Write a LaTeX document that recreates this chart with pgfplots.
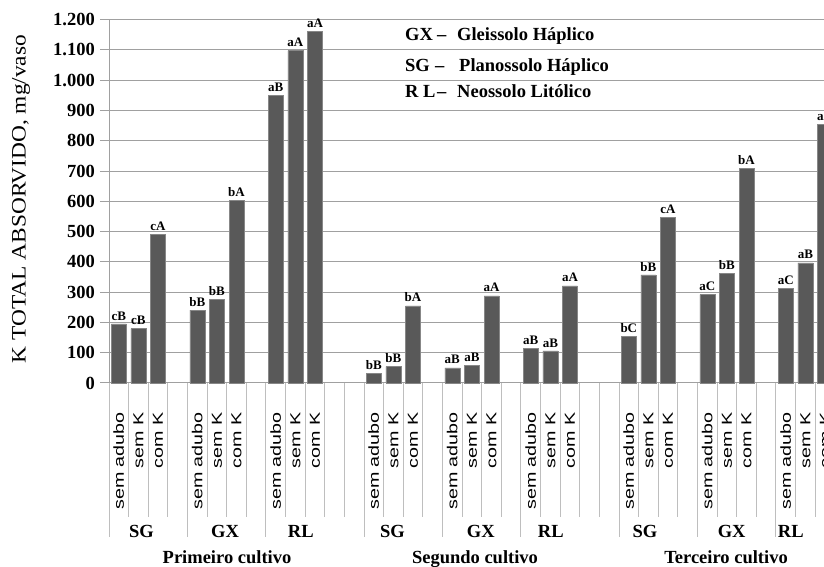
\documentclass[border=0pt]{standalone}
\usepackage{fontspec}
\setmainfont{Liberation Serif}
\setsansfont{Liberation Sans}
\usepackage{graphicx}
\usepackage{pgfplots}
\pgfplotsset{compat=1.18}
\usepackage{pgfplotstable}
\definecolor{barc}{HTML}{595959}
\definecolor{gridc}{HTML}{A0A0A0}
\definecolor{sepc}{HTML}{BEBEBE}
\newcommand\lA{\scalebox{1.36}[1]{sem adubo}}
\newcommand\lB{\scalebox{1.36}[1]{sem K}}
\newcommand\lC{\scalebox{1.36}[1]{com K}}
\pgfplotstableread{
x y lab
0 195 cB
1 180 cB
2 490 cA
4 241 bB
5 277 bB
6 604 bA
8 950 aB
9 1098 aA
10 1161 aA
13 33 bB
14 54 bB
15 255 bA
17 50 aB
18 58 aB
19 288 aA
21 114 aB
22 106 aB
23 321 aA
26 154 bC
27 357 bB
28 547 cA
30 292 aC
31 363 bB
32 709 bA
34 312 aC
35 397 aB
36 853 aA
}\datatable
\begin{document}
\begin{tikzpicture}[x=1pt,y=1pt]
\begin{axis}[
  at={(109pt,184pt)}, anchor=south west,
  scale only axis, width=765pt, height=363.3pt,
  xmin=-0.5, xmax=38.5, ymin=0, ymax=1200,
  clip=false,
  axis lines*=left,
  axis line style={gridc, line width=1pt},
  ymajorgrids, grid style={gridc, line width=1pt},
  ytick={0,100,...,1200},
  tick align=outside,
  major tick length=9pt,
  y tick style={gridc, line width=1pt},
  x tick style={draw=none},
  xtick={0,...,38},
  xticklabels={\lA,\lB,\lC,{},\lA,\lB,\lC,{},\lA,\lB,\lC,{},{},
               \lA,\lB,\lC,{},\lA,\lB,\lC,{},\lA,\lB,\lC,{},{},
               \lA,\lB,\lC,{},\lA,\lB,\lC,{},\lA,\lB,\lC,{},{}},
  xticklabel style={rotate=90, anchor=east, inner sep=0pt, font=\sffamily\fontsize{14.5}{15}\selectfont},
  xticklabel shift=20pt,
  yticklabel style={font=\bfseries\fontsize{18.5}{20}\selectfont, inner sep=0pt, xshift=-5pt},
  /pgf/number format/1000 sep={.},
  /pgf/number format/assume math mode=true,
]
\pgfplotsinvokeforeach{0.5,1.5,2.5,4.5,5.5,6.5,8.5,9.5,10.5,11.5,13.5,14.5,15.5,17.5,18.5,19.5,21.5,22.5,23.5,24.5,26.5,27.5,28.5,30.5,31.5,32.5,34.5,35.5,36.5,37.5}{
  \draw[sepc, line width=0.9pt] (axis cs:#1,0) -- ++(0pt,-134pt);
}
\pgfplotsinvokeforeach{-0.5,3.5,7.5,12.5,16.5,20.5,25.5,29.5,33.5}{
  \draw[sepc, line width=0.9pt] (axis cs:#1,0) -- ++(0pt,-154pt);
}
\addplot[ybar, bar width=15pt, bar shift=0pt, fill=barc, draw={rgb,255:red,135;green,135;blue,135}, line width=0.5pt,
  nodes near coords, point meta=explicit symbolic,
  nodes near coords style={font=\bfseries\fontsize{13}{14}\selectfont, inner sep=0pt, anchor=south, yshift=3.5pt, text=black}]
  table[x=x, y=y, meta=lab]{\datatable};
\end{axis}
% legend text
\begin{scope}[every node/.style={anchor=base west, inner sep=0pt, font=\bfseries\fontsize{18.5}{20}\selectfont}]
\node at (405,526) {GX};
\node at (437,526) {--};
\node at (457,526) {Gleissolo Háplico};
\node at (405,495) {SG};
\node at (435,495) {--};
\node at (459,495) {Planossolo Háplico};
\node at (405,469) {R L};
\node at (437,469) {--};
\node at (457,469) {Neossolo Litólico};
\end{scope}
% y label
\node[rotate=90, inner sep=0pt, font=\fontsize{20.5}{22}\selectfont] at (21,368) {\scalebox{1.14}[1]{K TOTAL ABSORVIDO, mg/vaso}};
% group labels
\begin{scope}[every node/.style={anchor=base, inner sep=0pt, font=\bfseries\fontsize{18.5}{20}\selectfont}]
\node at (141.5,29) {SG};
\node at (225,29) {GX};
\node at (300.8,29) {RL};
\node at (392.5,29) {SG};
\node at (480.8,29) {GX};
\node at (550.8,29) {RL};
\node at (645,29) {SG};
\node at (731.7,29) {GX};
\node at (790.8,29) {RL};
\node at (227,3) {Primeiro cultivo};
\node at (475,3) {Segundo cultivo};
\node at (726,3) {Terceiro cultivo};
\end{scope}
\pgfresetboundingbox
\path[use as bounding box] (0,0) rectangle (824,567);
\end{tikzpicture}
\end{document}
